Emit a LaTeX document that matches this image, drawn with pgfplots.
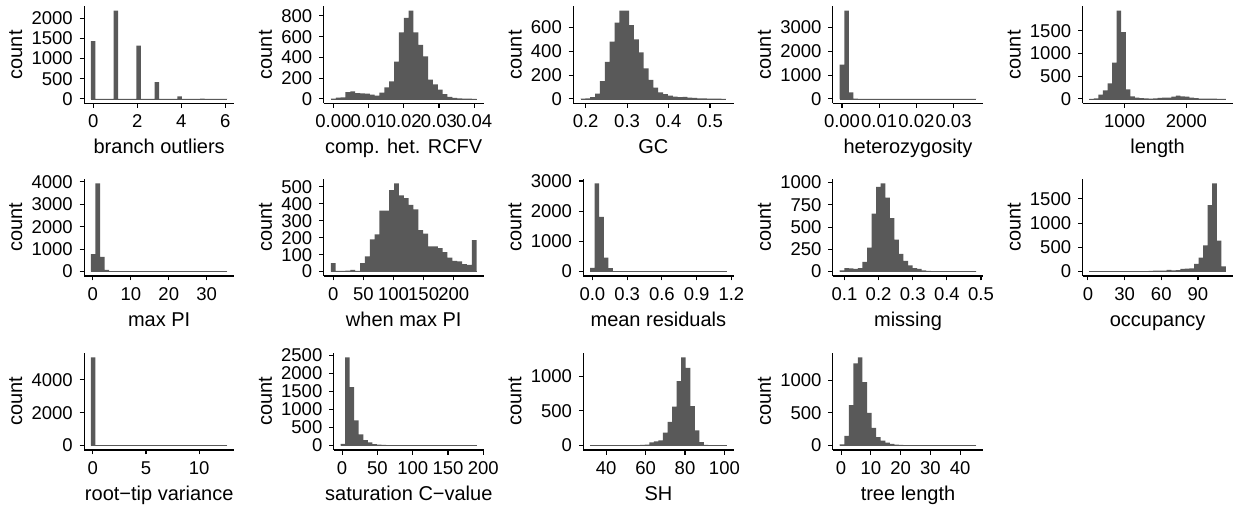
\documentclass[border=0pt]{standalone}
\usepackage{fontspec}
\setmainfont{Liberation Sans}
\usepackage{pgfplots}
\pgfplotsset{compat=1.18}
\definecolor{barcol}{HTML}{595959}
\newcommand{\tickfont}{\fontsize{18.5bp}{18.5bp}\selectfont}
\newcommand{\labfont}{\fontsize{20bp}{20bp}\selectfont}
\pgfplotsset{
 hist/.style={
  scale only axis, height=97bp, anchor=south west,
  axis lines*=left,
  axis line style={line width=1.1bp, black},
  tick align=outside,
  major tick length=4.5bp,
  tick style={line width=1.1bp, black},
  scaled ticks=false,
  /pgf/number format/assume math mode=true,
  ticklabel style={font=\tickfont, inner sep=0pt, text=black},
  xticklabel style={anchor=north, yshift=-6.7bp},
  yticklabel style={anchor=east, xshift=-6.7bp},
  ylabel={count},
  every axis x label/.style={at={(axis description cs:0.5,0)}, anchor=base, yshift=-50.7bp, font=\labfont, inner sep=0pt},
  every axis y label/.style={at={(ticklabel cs:0.5,9bp)}, rotate=90, anchor=south, font=\labfont, inner sep=0pt},
 },
 hbar/.style={fill=barcol, draw=none, const plot mark left},
 hbase/.style={barcol, line width=0.7bp},
}
\begin{document}
\begin{tikzpicture}
\path[use as bounding box] (0,0) rectangle (1237bp,510bp);
% 1 branch outliers
\begin{axis}[hist, at={(84.1bp,406.7bp)}, width=150.2bp,
 xmin=-0.4138, xmax=6.4138, ymin=-109, ymax=2292,
 xtick={0,2,4,6}, xticklabels={0,2,4,6},
 ytick={0,500,1000,1500,2000}, yticklabels={0,500,1000,1500,2000},
 xlabel={branch outliers}]
\addplot[hbar] coordinates {(-0.1034,1432) (0.1035,0) (0.9311,2183) (1.1380,0) (1.9656,1317) (2.1725,0) (2.7932,417) (3.0001,0) (3.8277,65) (4.0346,0) (4.8622,6) (5.0691,0) (5.8967,2) (6.1036,2)} \closedcycle;
\addplot[hbase] coordinates {(-0.1034,0) (6.1036,0)};
\end{axis}
% 2 comp. het. RCFV
\begin{axis}[hist, at={(323.6bp,406.7bp)}, width=160.3bp,
 xmin=-0.00276, xmax=0.04275, ymin=-42.5, ymax=892.5,
 xtick={0,0.01,0.02,0.03,0.04}, xticklabels={0.00,0.01,0.02,0.03,0.04},
 ytick={0,200,400,600,800}, yticklabels={0,200,400,600,800},
 xlabel={comp. het. RCFV}]
\addplot[hbar] coordinates {(-0.00069,3) (0.000689,12) (0.002068,15) (0.003447,65) (0.004826,72) (0.006205,55) (0.007584,52) (0.008963,50) (0.010342,42) (0.011721,32) (0.0131,60) (0.014479,110) (0.015858,170) (0.017237,360) (0.018616,640) (0.019995,780) (0.021374,850) (0.022753,640) (0.024132,520) (0.025511,410) (0.02689,185) (0.028269,140) (0.029648,90) (0.031027,45) (0.032406,20) (0.033785,10) (0.035164,5) (0.036543,3) (0.037922,2) (0.039301,1) (0.04068,1)} \closedcycle;
\addplot[hbase] coordinates {(-0.00069,0) (0.04068,0)};
\end{axis}
% 3 GC
\begin{axis}[hist, at={(573.2bp,406.7bp)}, width=160.3bp,
 xmin=0.17, xmax=0.5568, ymin=-37, ymax=777,
 xtick={0.2,0.3,0.4,0.5}, xticklabels={0.2,0.3,0.4,0.5},
 ytick={0,200,400,600}, yticklabels={0,200,400,600},
 xlabel={GC}]
\addplot[hbar] coordinates {(0.1876,2) (0.19932,5) (0.21104,15) (0.22276,45) (0.23448,150) (0.2462,310) (0.25792,480) (0.26964,640) (0.28136,740) (0.29308,740) (0.3048,620) (0.31652,500) (0.32824,390) (0.33996,255) (0.35168,160) (0.3634,95) (0.37512,55) (0.38684,40) (0.39856,28) (0.41028,20) (0.422,14) (0.43372,17) (0.44544,10) (0.45716,8) (0.46888,5) (0.4806,4) (0.49232,3) (0.50404,2) (0.51576,2) (0.52748,1) (0.5392,1)} \closedcycle;
\addplot[hbase] coordinates {(0.1876,0) (0.5392,0)};
\end{axis}
% 4 heterozygosity
\begin{axis}[hist, at={(832.9bp,406.7bp)}, width=150.2bp,
 xmin=-0.002448, xmax=0.037944, ymin=-185.5, ymax=3895.5,
 xtick={0,0.01,0.02,0.03}, xticklabels={0.00,0.01,0.02,0.03},
 ytick={0,1000,2000,3000}, yticklabels={0,1000,2000,3000},
 xlabel={heterozygosity}]
\addplot[hbar] coordinates {(-0.000612,1445) (0.000612,3710) (0.001836,270) (0.00306,15) (0.004284,5) (0.005508,2) (0.006732,1) (0.007956,1) (0.00918,0) (0.034884,1) (0.036108,1)} \closedcycle;
\addplot[hbase] coordinates {(-0.000612,0) (0.036108,0)};
\end{axis}
% 5 length
\begin{axis}[hist, at={(1082.5bp,406.7bp)}, width=150.2bp,
 xmin=317.5, xmax=2750.3, ymin=-97, ymax=2037,
 xtick={1000,2000}, xticklabels={1000,2000},
 ytick={0,500,1000,1500}, yticklabels={0,500,1000,1500},
 xlabel={length}]
\addplot[hbar] coordinates {(428.1,2) (501.9,10) (575.6,95) (649.3,190) (723,340) (796.7,800) (870.5,1940) (944.2,1470) (1017.9,210) (1091.6,55) (1165.3,30) (1239,15) (1312.8,10) (1386.5,8) (1460.2,12) (1533.9,25) (1607.6,30) (1681.4,30) (1755.1,50) (1828.8,70) (1902.5,55) (1976.2,50) (2050,30) (2123.7,15) (2197.4,8) (2271.1,6) (2344.8,5) (2418.6,4) (2492.3,3) (2566,2) (2639.7,2)} \closedcycle;
\addplot[hbase] coordinates {(428.1,0) (2639.7,0)};
\end{axis}
% 6 max PI
\begin{axis}[hist, at={(84.1bp,234bp)}, width=150.2bp,
 xmin=-2.297, xmax=37.257, ymin=-196, ymax=4123,
 xtick={0,10,20,30}, xticklabels={0,10,20,30},
 ytick={0,1000,2000,3000,4000}, yticklabels={0,1000,2000,3000,4000},
 xlabel={max PI}]
\addplot[hbar] coordinates {(-0.4993,776) (0.6993,3927) (1.8979,657) (3.0965,75) (4.2951,18) (5.4937,8) (6.6923,5) (7.8909,3) (9.0895,2) (10.288,2) (11.487,1) (12.685,1) (13.884,0) (16.281,1) (17.48,0) (34.26,1) (35.459,1)} \closedcycle;
\addplot[hbase] coordinates {(-0.4993,0) (35.459,0)};
\end{axis}
% 7 when max PI
\begin{axis}[hist, at={(323.6bp,234bp)}, width=160.3bp,
 xmin=-16.14, xmax=250.14, ymin=-26, ymax=546,
 xtick={0,50,100,150,200}, xticklabels={0,50,100,150,200},
 ytick={0,100,200,300,400,500}, yticklabels={0,100,200,300,400,500},
 xlabel={when max PI}]
\addplot[hbar] coordinates {(-4.034,50) (4.035,4) (12.104,4) (20.173,5) (28.242,10) (36.311,4) (44.38,50) (52.449,90) (60.518,190) (68.587,220) (76.656,360) (84.725,360) (92.794,480) (100.863,520) (108.932,450) (117.001,433) (125.07,393) (133.139,367) (141.208,244) (149.277,224) (157.346,149) (165.415,148) (173.484,139) (181.553,115) (189.622,83) (197.691,63) (205.76,60) (213.829,44) (221.898,40) (229.967,186) (238.036,186)} \closedcycle;
\addplot[hbase] coordinates {(-4.034,0) (238.036,0)};
\end{axis}
% 8 mean residuals
\begin{axis}[hist, at={(583.3bp,234bp)}, width=150.2bp,
 xmin=-0.0787, xmax=1.2183, ymin=-146, ymax=3066,
 xtick={0,0.3,0.6,0.9,1.2}, xticklabels={0.0,0.3,0.6,0.9,1.2},
 ytick={0,1000,2000,3000}, yticklabels={0,1000,2000,3000},
 xlabel={mean residuals}]
\addplot[hbar] coordinates {(-0.0197,120) (0.0196,2920) (0.0589,1810) (0.0982,460) (0.1375,115) (0.1768,15) (0.2161,5) (0.2554,3) (0.2947,2) (0.334,1) (0.3733,0) (1.12,1) (1.1593,1)} \closedcycle;
\addplot[hbase] coordinates {(-0.0197,0) (1.1593,0)};
\end{axis}
% 9 missing
\begin{axis}[hist, at={(832.9bp,234bp)}, width=150.2bp,
 xmin=0.0662, xmax=0.5061, ymin=-49.5, ymax=1039.5,
 xtick={0.1,0.2,0.3,0.4,0.5}, xticklabels={0.1,0.2,0.3,0.4,0.5},
 ytick={0,250,500,750,1000}, yticklabels={0,250,500,750,1000},
 xlabel={missing}]
\addplot[hbar] coordinates {(0.0862,15) (0.09953,40) (0.11286,35) (0.12619,30) (0.13952,40) (0.15285,110) (0.16618,270) (0.17951,650) (0.19284,950) (0.20617,990) (0.2195,830) (0.23283,600) (0.24616,360) (0.25949,200) (0.27282,120) (0.28615,70) (0.29948,40) (0.31281,30) (0.32614,15) (0.33947,8) (0.3528,5) (0.36613,4) (0.37946,3) (0.39279,2) (0.40612,2) (0.41945,2) (0.43278,1) (0.44611,1) (0.45944,1) (0.47277,1) (0.4861,1)} \closedcycle;
\addplot[hbase] coordinates {(0.0862,0) (0.4861,0)};
\end{axis}
% 10 occupancy
\begin{axis}[hist, at={(1082.5bp,234bp)}, width=150.2bp,
 xmin=-4.448, xmax=118.44, ymin=-91, ymax=1911,
 xtick={0,30,60,90}, xticklabels={0,30,60,90},
 ytick={0,500,1000,1500}, yticklabels={0,500,1000,1500},
 xlabel={occupancy}]
\addplot[hbar] coordinates {(1.138,2) (4.862,1) (8.586,1) (12.31,2) (16.034,1) (19.758,2) (23.482,3) (27.206,3) (30.93,4) (34.654,5) (38.378,6) (42.102,8) (45.826,10) (49.55,15) (53.274,18) (56.998,20) (60.722,22) (64.446,35) (68.17,25) (71.894,28) (75.618,55) (79.342,60) (83.066,65) (86.79,160) (90.514,290) (94.238,540) (97.962,1370) (101.686,1820) (105.41,640) (109.134,110) (112.858,110)} \closedcycle;
\addplot[hbase] coordinates {(1.138,0) (112.858,0)};
\end{axis}
% 11 root-tip variance
\begin{axis}[hist, at={(84.1bp,60bp)}, width=150.2bp,
 xmin=-0.827, xmax=13.317, ymin=-268.5, ymax=5638.5,
 xtick={0,5,10}, xticklabels={0,5,10},
 ytick={0,2000,4000}, yticklabels={0,2000,4000},
 xlabel={root−tip variance}]
\addplot[hbar] coordinates {(-0.1843,5370) (0.2443,30) (0.6729,8) (1.1015,3) (1.5301,2) (1.9587,1) (2.3873,0) (2.8159,1) (3.2445,0) (12.245,1) (12.674,1)} \closedcycle;
\addplot[hbase] coordinates {(-0.1843,0) (12.674,0)};
\end{axis}
% 12 saturation C-value
\begin{axis}[hist, at={(333.7bp,60bp)}, width=150.2bp,
 xmin=-11.9, xmax=200.89, ymin=-122, ymax=2562,
 xtick={0,50,100,150,200}, xticklabels={0,50,100,150,200},
 ytick={0,500,1000,1500,2000,2500}, yticklabels={0,500,1000,1500,2000,2500},
 xlabel={saturation C−value}]
\addplot[hbar] coordinates {(-2.224,50) (4.224,2440) (10.672,1620) (17.12,700) (23.568,310) (30.016,150) (36.464,90) (42.912,40) (49.36,30) (55.808,20) (62.256,10) (68.704,8) (75.152,5) (81.6,4) (88.048,3) (94.496,2) (100.944,2) (107.392,1) (113.84,1) (120.288,1) (126.736,1) (133.184,1) (139.632,1) (146.08,0) (184.768,1) (191.216,1)} \closedcycle;
\addplot[hbase] coordinates {(-2.224,0) (191.216,0)};
\end{axis}
% 13 SH
\begin{axis}[hist, at={(583.3bp,60bp)}, width=150.2bp,
 xmin=28.38, xmax=104.62, ymin=-63.5, ymax=1333.5,
 xtick={40,60,80,100}, xticklabels={40,60,80,100},
 ytick={0,500,1000}, yticklabels={0,500,1000},
 xlabel={SH}]
\addplot[hbar] coordinates {(31.845,2) (34.155,1) (36.466,1) (38.776,1) (41.086,2) (43.397,2) (45.707,3) (48.017,3) (50.327,5) (52.638,5) (54.948,8) (57.258,10) (59.569,15) (61.879,45) (64.189,60) (66.5,75) (68.81,185) (71.12,340) (73.431,560) (75.741,930) (78.051,1270) (80.361,1120) (82.672,570) (84.982,220) (87.292,50) (89.603,10) (91.913,4) (94.223,2) (96.533,1) (98.844,1) (101.154,1)} \closedcycle;
\addplot[hbase] coordinates {(31.845,0) (101.154,0)};
\end{axis}
% 14 tree length
\begin{axis}[hist, at={(832.9bp,60bp)}, width=150.2bp,
 xmin=-2.76, xmax=47.73, ymin=-67.5, ymax=1417.5,
 xtick={0,10,20,30,40}, xticklabels={0,10,20,30,40},
 ytick={0,500,1000}, yticklabels={0,500,1000},
 xlabel={tree length}]
\addplot[hbar] coordinates {(-0.465,20) (1.065,150) (2.595,620) (4.125,1260) (5.655,1350) (7.185,970) (8.715,500) (10.245,270) (11.775,130) (13.305,75) (14.835,45) (16.365,25) (17.895,15) (19.425,10) (20.955,8) (22.485,5) (24.015,4) (25.545,3) (27.075,3) (28.605,2) (30.135,2) (31.665,1) (33.195,1) (34.725,0) (36.255,1) (37.785,0) (43.905,1) (45.435,1)} \closedcycle;
\addplot[hbase] coordinates {(-0.465,0) (45.435,0)};
\end{axis}
\end{tikzpicture}
\end{document}
